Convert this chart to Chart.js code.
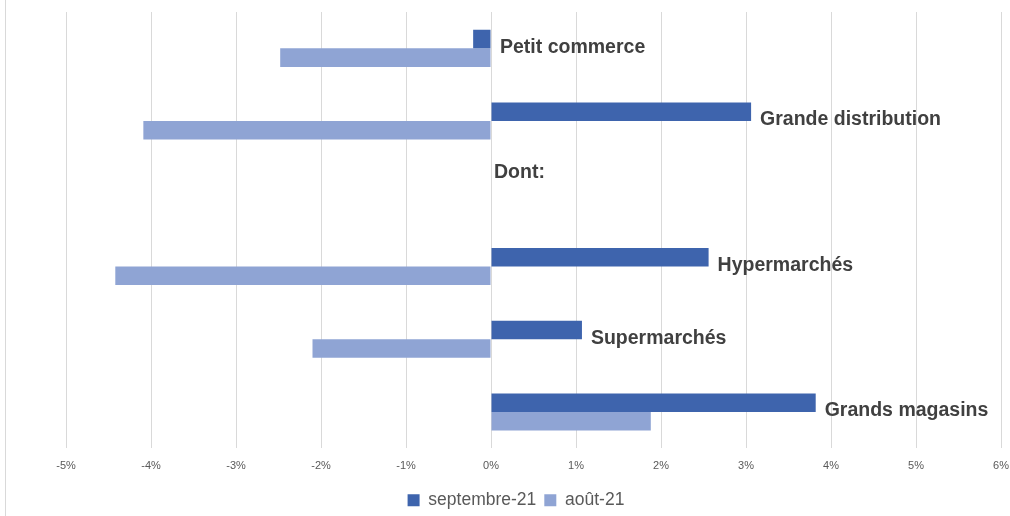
<!DOCTYPE html>
<html>
<head>
<meta charset="utf-8">
<script src="https://cdn.jsdelivr.net/npm/chart.js@4.4.0/dist/chart.umd.min.js"></script>
<style>
  html, body { margin: 0; padding: 0; background: #fff; }
  #wrap { position: relative; width: 1010px; height: 516px; }
</style>
</head>
<body>
<div id="wrap"><canvas id="c" width="1010" height="516"></canvas></div>
<script>
const categories = ["Petit commerce", "Grande distribution", "Dont:", "Hypermarchés", "Supermarchés", "Grands magasins"];
const septembre21 = [-0.21, 3.06, null, 2.56, 1.07, 3.82];
const aout21 = [-2.48, -4.09, null, -4.42, -2.10, 1.88];
const xTicks = [-5, -4, -3, -2, -1, 0, 1, 2, 3, 4, 5, 6];
const seriesNames = ["septembre-21", "août-21"];

const labelPlugin = {
  id: 'catLabels',
  beforeDraw(chart) {
    const ctx = chart.ctx;
    ctx.save();
    ctx.strokeStyle = '#d9d9d9';
    ctx.lineWidth = 1;
    ctx.beginPath();
    ctx.moveTo(5.5, 0);
    ctx.lineTo(5.5, chart.height);
    ctx.stroke();
    ctx.restore();
  },
  afterDatasetsDraw(chart) {
    const ctx = chart.ctx;
    const xs = chart.scales.x, ys = chart.scales.y;
    ctx.save();
    ctx.font = 'bold 19.5px "Liberation Sans", Arial, sans-serif';
    ctx.fillStyle = '#404040';
    ctx.textBaseline = 'middle';
    ctx.textAlign = 'left';
    categories.forEach((name, i) => {
      const a = septembre21[i], b = aout21[i];
      let y = ys.getPixelForValue(i);
      let x;
      if (a === null && b === null) {
        x = xs.getPixelForValue(0) + 3;
        y -= 21;
      } else {
        x = xs.getPixelForValue(Math.max(0, a ?? 0, b ?? 0)) + 9;
        y -= 1;
      }
      ctx.fillText(name, x, y);
    });
    ctx.restore();
  }
};

new Chart(document.getElementById('c'), {
  type: 'bar',
  data: {
    labels: categories,
    datasets: [
      { label: seriesNames[0], data: septembre21, backgroundColor: '#3e64ad', borderWidth: 0 },
      { label: seriesNames[1], data: aout21, backgroundColor: '#8fa4d4', borderWidth: 0 }
    ]
  },
  options: {
    indexAxis: 'y',
    responsive: false,
    animation: false,
    devicePixelRatio: 1,
    categoryPercentage: 0.51,
    barPercentage: 1,
    layout: { padding: { left: 22, right: 0, top: 12, bottom: -3 } },
    scales: {
      x: {
        min: -5, max: 6,
        afterBuildTicks(scale) { scale.ticks = xTicks.map(v => ({ value: v })); },
        afterFit(scale) { scale.paddingLeft = 66; scale.paddingRight = 9; },
        grid: { color: '#d9d9d9', lineWidth: 1, drawTicks: false },
        border: { display: false },
        ticks: {
          padding: 11,
          color: '#595959',
          font: { family: '"Liberation Sans", Arial, sans-serif', size: 11 },
          callback: v => v + '%'
        }
      },
      y: { display: false }
    },
    plugins: {
      legend: {
        position: 'bottom',
        labels: {
          boxWidth: 12, boxHeight: 12, padding: 8,
          color: '#595959',
          font: { family: '"Liberation Sans", Arial, sans-serif', size: 17.5 }
        }
      },
      tooltip: { enabled: false }
    }
  },
  plugins: [labelPlugin]
});
</script>
</body>
</html>
